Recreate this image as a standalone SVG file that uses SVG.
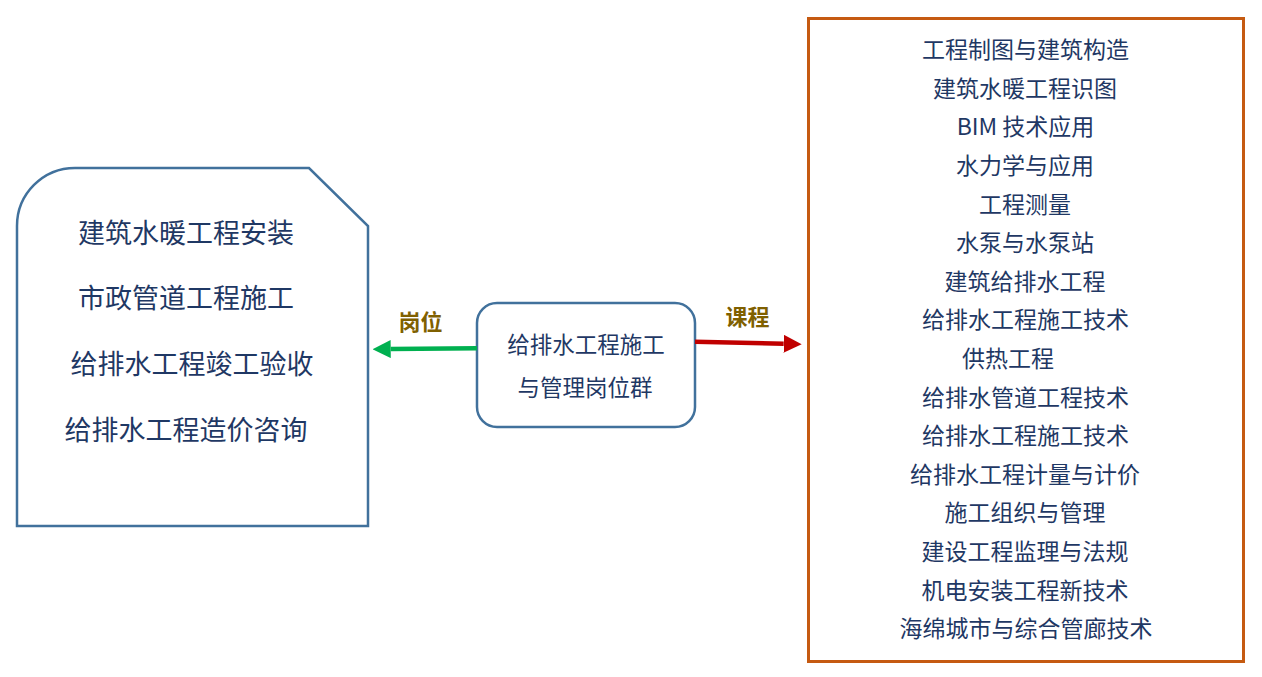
<svg xmlns="http://www.w3.org/2000/svg" width="1262" height="677" viewBox="0 0 1262 677">
<style>
  .t { font-family: "Noto Sans CJK SC", "Noto Sans", sans-serif; fill: #1F3864; text-anchor: middle; }
  .l { font-size: 27px; }
  .c { font-size: 22.5px; }
  .r { font-size: 23px; }
  .lab { font-family: "Noto Sans CJK SC", "Noto Sans", sans-serif; font-size: 22px; font-weight: bold; fill: #7F6000; text-anchor: middle; }
  .box { fill: #FFFFFF; stroke: #41719C; stroke-width: 2.5; }
</style>
<defs>
  <marker id="headG" markerUnits="userSpaceOnUse" markerWidth="18" markerHeight="18" refX="0" refY="9" orient="auto" viewBox="0 0 18 18">
    <path d="M0,0 L18,9 L0,18 Z" fill="#00B050"/>
  </marker>
  <marker id="headR" markerUnits="userSpaceOnUse" markerWidth="18" markerHeight="18" refX="0" refY="9" orient="auto" viewBox="0 0 18 18">
    <path d="M0,0 L18,9 L0,18 Z" fill="#C00000"/>
  </marker>
</defs>
<rect width="1262" height="677" fill="#FFFFFF"/>

<g id="posts">
  <path class="box" d="M17,226 A58,58 0 0 1 75,168 L309,168 L368,226 L368,526 L17,526 Z"/>
  <text class="t l" x="186" y="242.5">建筑水暖工程安装</text>
  <text class="t l" x="186" y="308">市政管道工程施工</text>
  <text class="t l" x="192" y="373.5">给排水工程竣工验收</text>
  <text class="t l" x="186" y="440">给排水工程造价咨询</text>
</g>

<g id="center">
  <rect class="box" x="477" y="303" width="218" height="124" rx="20" ry="20"/>
  <text class="t c" x="586" y="352.5">给排水工程施工</text>
  <text class="t c" x="585" y="395.5">与管理岗位群</text>
</g>

<g id="courses">
  <rect x="808.5" y="18.5" width="435" height="643" fill="#FFFFFF" stroke="#C55A11" stroke-width="3"/>
  <text class="t r" x="1025.5" y="57.7">工程制图与建筑构造</text>
  <text class="t r" x="1025" y="96.7">建筑水暖工程识图</text>
  <text class="t r" x="1025.5" y="134.7">BIM 技术应用</text>
  <text class="t r" x="1025" y="173.7">水力学与应用</text>
  <text class="t r" x="1025" y="212.7">工程测量</text>
  <text class="t r" x="1025" y="250.7">水泵与水泵站</text>
  <text class="t r" x="1025" y="289.7">建筑给排水工程</text>
  <text class="t r" x="1025.5" y="327.7">给排水工程施工技术</text>
  <text class="t r" x="1008" y="366.7">供热工程</text>
  <text class="t r" x="1025.5" y="405.7">给排水管道工程技术</text>
  <text class="t r" x="1025.5" y="443.7">给排水工程施工技术</text>
  <text class="t r" x="1025" y="482.7">给排水工程计量与计价</text>
  <text class="t r" x="1025" y="520.7">施工组织与管理</text>
  <text class="t r" x="1025" y="559.7">建设工程监理与法规</text>
  <text class="t r" x="1025" y="598.7">机电安装工程新技术</text>
  <text class="t r" x="1026" y="636.7">海绵城市与综合管廊技术</text>
</g>

<g id="connectors">
  <line x1="477" y1="348.3" x2="390.7" y2="349.1" stroke="#00B050" stroke-width="4.5" marker-end="url(#headG)"/>
  <line x1="695" y1="341.7" x2="783.7" y2="343.8" stroke="#C00000" stroke-width="4.5" marker-end="url(#headR)"/>
  <text class="lab" x="420.5" y="330">岗位</text>
  <text class="lab" x="747.5" y="325">课程</text>
</g>
</svg>
